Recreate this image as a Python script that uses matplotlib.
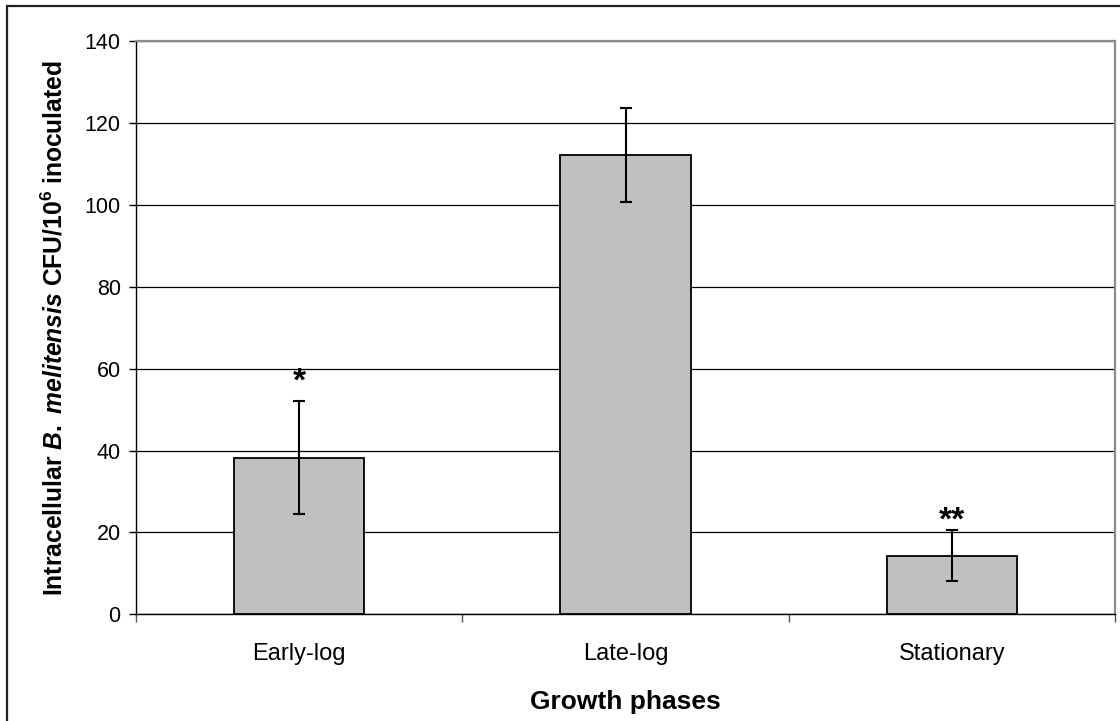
import matplotlib
matplotlib.use("Agg")
import matplotlib.pyplot as plt
from matplotlib.patches import Rectangle

# Data
phases = ["Early-log", "Late-log", "Stationary"]
cfu = [38.3, 112.2, 14.3]
sem = [13.9, 11.4, 6.2]
marks = ["*", "", "**"]
yticks = [0, 20, 40, 60, 80, 100, 120, 140]

plt.rcParams["font.family"] = "Liberation Sans"
plt.rcParams["mathtext.fontset"] = "custom"
plt.rcParams["mathtext.rm"] = "Liberation Sans:bold"
plt.rcParams["mathtext.bf"] = "Liberation Sans:bold"
plt.rcParams["mathtext.it"] = "Liberation Sans:bold:italic"

W, H = 1120, 721
fig = plt.figure(figsize=(W / 100, H / 100), dpi=100)
fig.patch.set_facecolor("white")

# outer chart frame
fig.patches.append(Rectangle((7 / W, -0.02), 1.05, 1 - 6 / H + 0.02,
                             transform=fig.transFigure, fill=False,
                             edgecolor="#222222", linewidth=1.6, zorder=0))

ax = fig.add_axes([136 / W, (H - 614.3) / H, (1115 - 136) / W, (614.3 - 41.3) / H])

x = list(range(len(phases)))
ax.bar(x, cfu, width=0.40, color="#C0C0C0", edgecolor="black",
       linewidth=1.3, zorder=3)
ax.errorbar(x, cfu, yerr=sem, fmt="none", ecolor="black", elinewidth=1.5,
            capsize=4.6, capthick=1.5, zorder=4)

offsets = [7.5, 0, 0.5]
for xi, v, e, m, off in zip(x, cfu, sem, marks, offsets):
    if m:
        ax.annotate(m, (xi, v + e), xytext=(0, off), textcoords="offset points",
                    ha="center", va="baseline", fontsize=24, fontweight="bold")

ax.set_xlim(-0.5, len(phases) - 0.5)
ax.set_ylim(0, 140)
ax.set_yticks(yticks)
ax.set_yticklabels([str(t) for t in yticks])
ax.set_xticks(x)
ax.set_xticklabels(phases)
ax.set_xticks([i - 0.5 for i in range(len(phases) + 1)], minor=True)
ax.tick_params(axis="x", which="major", length=0, pad=21, labelsize=17)
ax.tick_params(axis="x", which="minor", length=6, width=1.0, direction="out",
               color="#555555")
ax.tick_params(axis="y", length=5, width=1.0, direction="out", pad=6,
               labelsize=15.5)

ax.yaxis.grid(True, color="black", linewidth=0.9, zorder=0)
ax.set_axisbelow(True)
for s in ["top", "right"]:
    ax.spines[s].set_color("#8c8c8c")
    ax.spines[s].set_linewidth(1.6)
ax.spines["left"].set_color("black")
ax.spines["bottom"].set_color("black")
ax.spines["left"].set_linewidth(1.0)
ax.spines["bottom"].set_linewidth(1.0)

ax.set_xlabel("Growth phases", fontsize=19, fontweight="bold", labelpad=18)
ax.set_ylabel(r"Intracellular $\it{B.\ melitensis}$ CFU/10$^{6}$ inoculated",
              fontsize=17.7, fontweight="bold", labelpad=12)

fig.savefig("out.png", dpi=100, facecolor="white")
